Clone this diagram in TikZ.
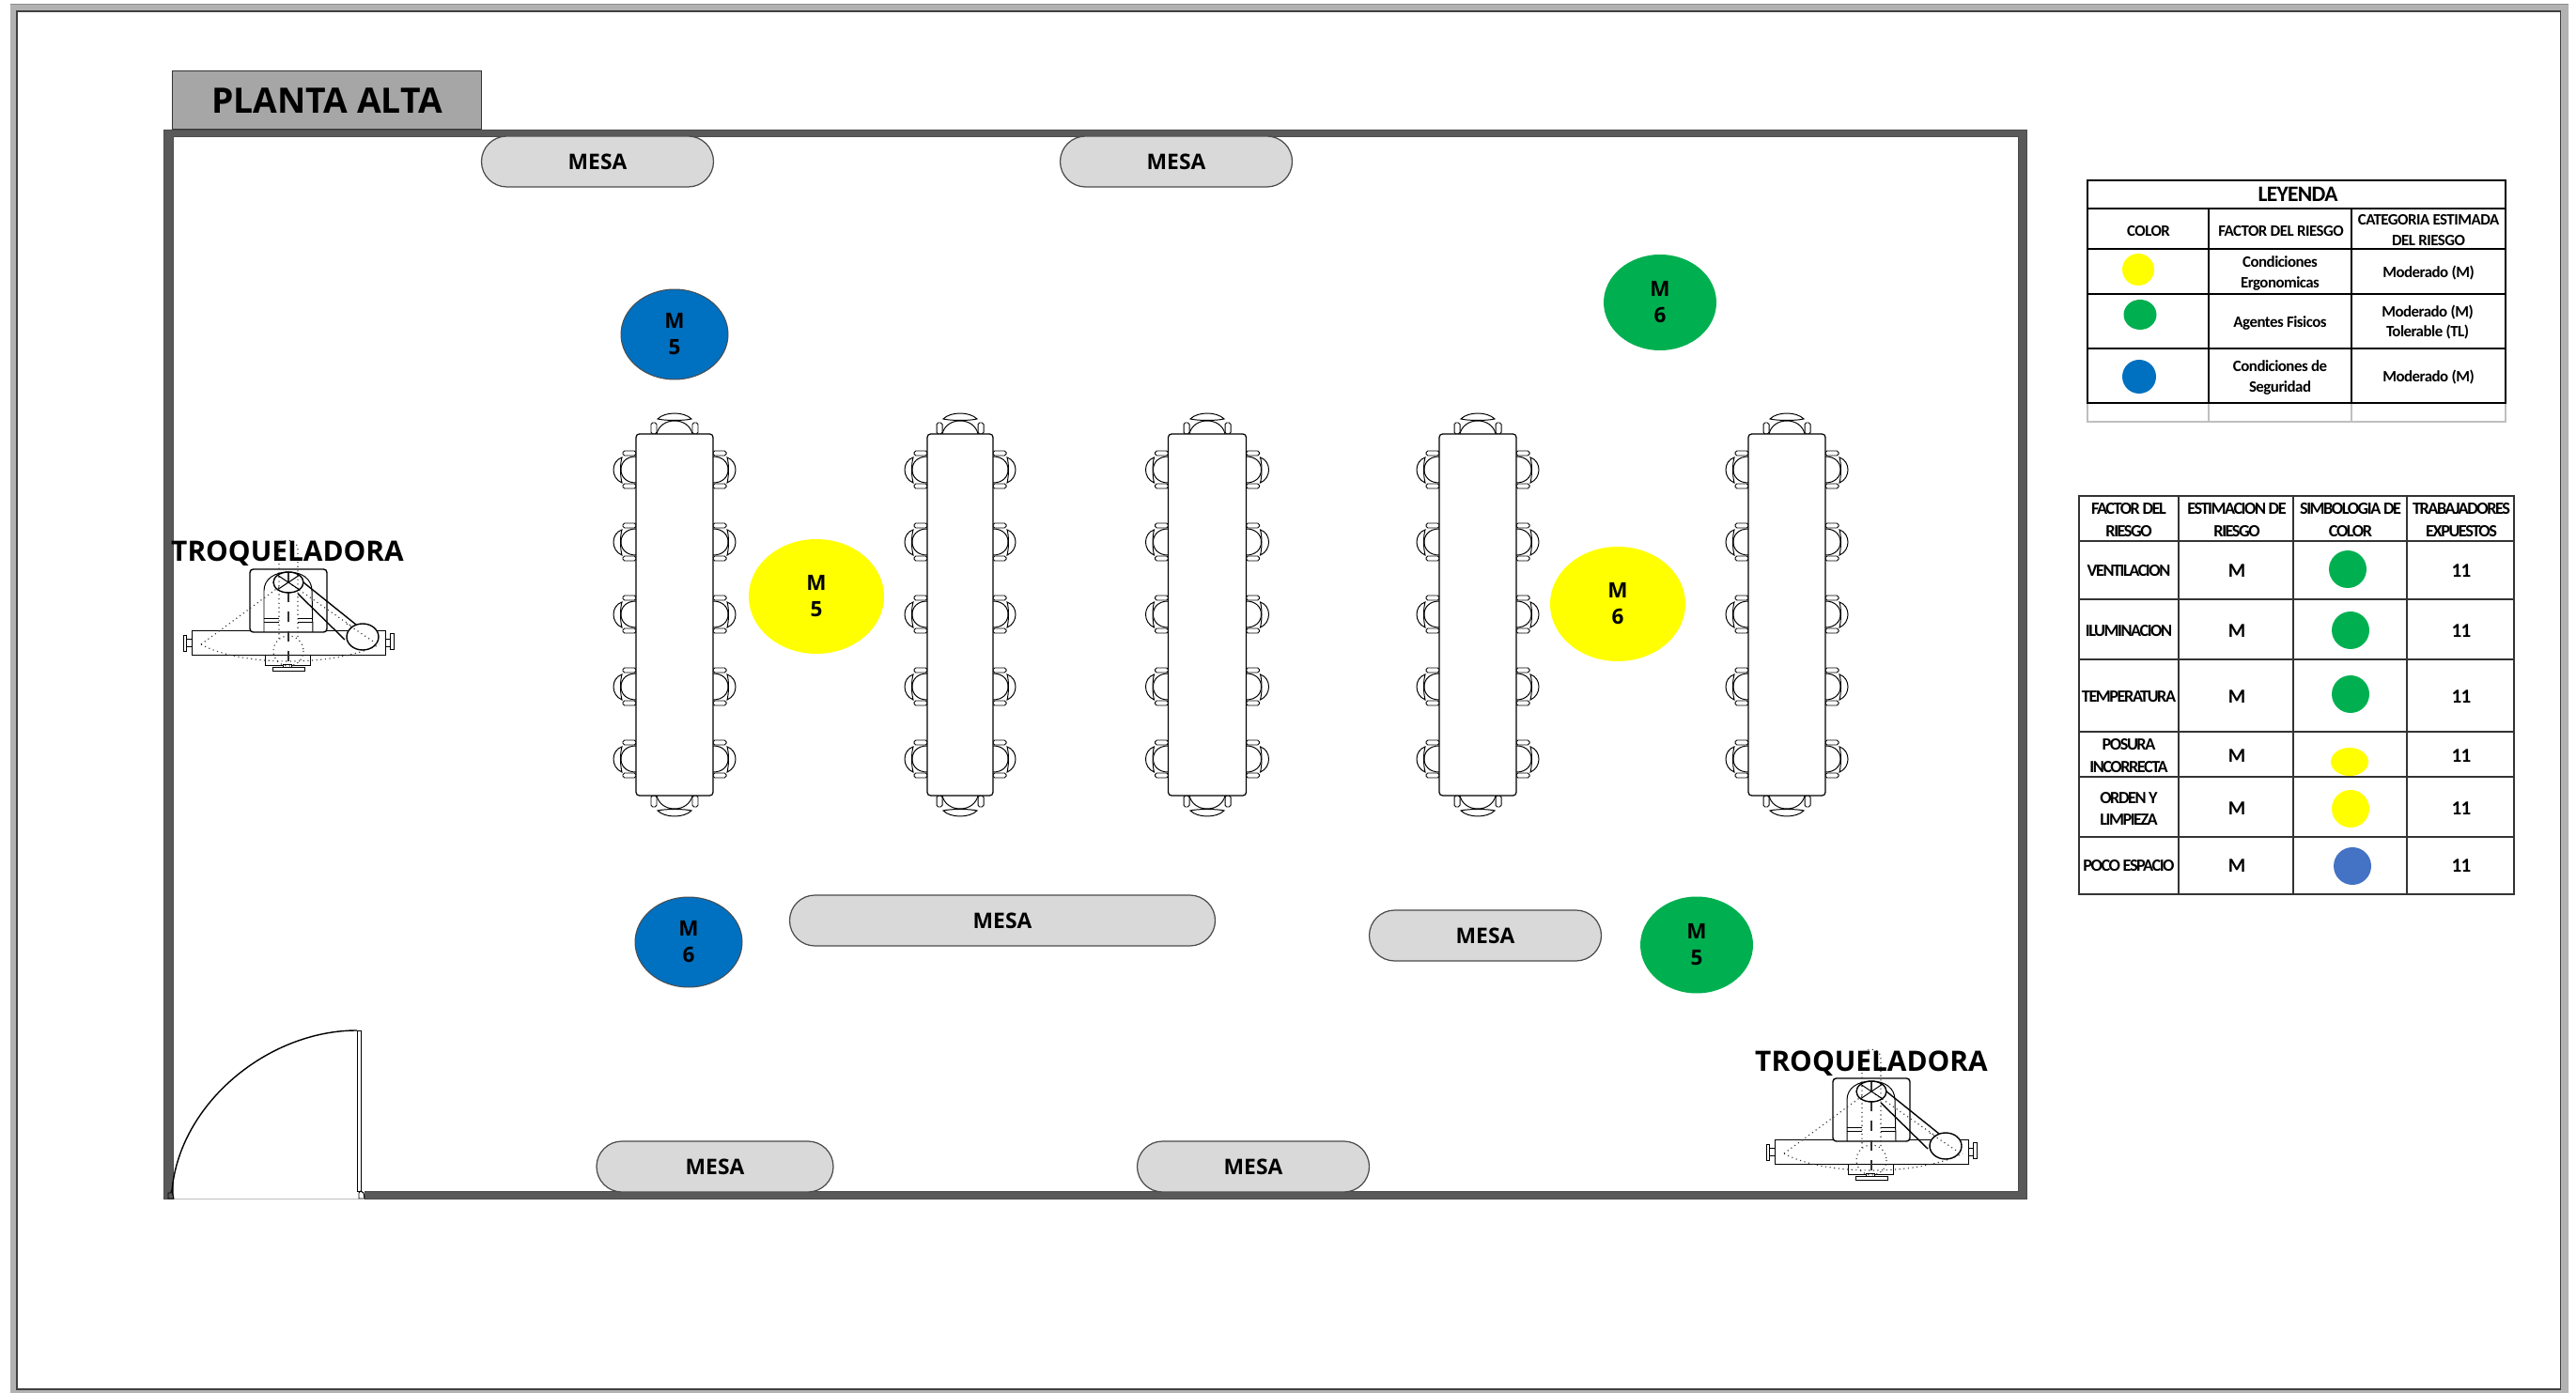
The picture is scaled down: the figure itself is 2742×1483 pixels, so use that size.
\documentclass[tikz,border=0pt]{standalone}
\usepackage{fontspec}
\setmainfont{Open Sans}
\newfontfamily\cellfont[LetterSpace=-3]{Carlito}
\newfontfamily\tightfont[LetterSpace=-8]{Carlito}
\usetikzlibrary{shapes.misc,shapes.geometric}
\definecolor{framegray}{HTML}{B2B2B2}
\definecolor{wallgray}{HTML}{595959}
\definecolor{titlegray}{HTML}{A6A6A6}
\definecolor{mesagray}{HTML}{D9D9D9}
\definecolor{riskyellow}{HTML}{FFFF00}
\definecolor{riskgreen}{HTML}{00B050}
\definecolor{riskblue}{HTML}{0070C0}
\definecolor{spaceblue}{HTML}{4472C4}
\tikzset{
    plan/.style={x=0.1mm,y=-0.1mm,line width=0.28pt},
    mesa/.style={rounded rectangle,draw=black!70,line width=0.35pt,fill=mesagray,minimum height=5.4mm,inner sep=0pt,font=\bfseries\fontsize{6.5}{8}\selectfont},
    risk/.style={ellipse,inner sep=0pt,align=center,font=\bfseries\fontsize{6.4}{8}\selectfont},
    label/.style={font=\bfseries\fontsize{8.5}{10}\selectfont},
    legendcell/.style={inner sep=0pt,align=center,font=\cellfont\bfseries\fontsize{4.8}{6}\selectfont},
    factorcell/.style={inner sep=0pt,align=center,font=\tightfont\bfseries\fontsize{5.2}{6.8}\selectfont},
    valuecell/.style={inner sep=0pt,font=\cellfont\bfseries\fontsize{6}{7}\selectfont},
    dot/.style={fill=#1,draw=none},
    hidden/.style={draw=black!80,densely dotted,line width=0.32pt},
    sidechair/.pic={
        \draw[rounded corners=0.5pt,fill=white] (0,-20) rectangle (-14,-15);
        \draw[rounded corners=0.5pt,fill=white] (0,15) rectangle (-14,20);
        \draw[fill=white] (0,-14) .. controls (-10,-14) and (-16,-8) .. (-16,0) .. controls (-16,8) and (-10,14) .. (0,14);
        \draw[fill=white] (-15,-13) .. controls (-27,-9) and (-27,9) .. (-15,14) .. controls (-17,6) and (-17,-6) .. cycle;
    },
    endchair/.pic={
        \draw[rounded corners=0.5pt,fill=white] (-25,0) rectangle (-19,-12);
        \draw[rounded corners=0.5pt,fill=white] (19,0) rectangle (25,-12);
        \draw[fill=white] (-19,0) .. controls (-17,-9) and (-9,-14) .. (0,-14) .. controls (9,-14) and (17,-9) .. (19,0);
        \draw[fill=white] (-18,-16) .. controls (-10,-24) and (10,-24) .. (18,-16) .. controls (10,-14) and (-10,-14) .. cycle;
    },
    troqueladora/.pic={
        \draw[fill=white] (-103,51) rectangle (103,77);
        \draw[fill=white] (-25,77) rectangle (23,88);
        \draw[fill=white] (-6,87) rectangle (3,90);
        \draw[fill=white] (-17,90) rectangle (17,94);
        \draw[fill=white] (-109,60) rectangle (-103,68);
        \draw[fill=white] (-112,56) rectangle (-109,73);
        \draw[fill=white] (103,60) rectangle (108,68);
        \draw[fill=white] (108,54) rectangle (112,71);
        \draw[line width=0.4pt,fill=white,rounded corners=1pt] (-41,53) -- (-41,-14) -- (41,-14) -- (41,53) -- cycle;
        \draw (-26,53) -- (-26,9) .. controls (-26,-4) and (-14,-11) .. (0,-11) .. controls (14,-11) and (25,-4) .. (25,9) -- (26,53);
        \draw (-26,38) -- (-10,38) (-26,42) -- (-10,42) (10,38) -- (26,38) (10,42) -- (26,42);
        \draw[hidden] (-93,66) -- (-10,5) (0,0) -- (95,66);
        \draw[hidden] (-93,66) .. controls (-50,90) and (50,90) .. (97,66);
        \draw[hidden] (-10,60) -- (-10,-35) .. controls (-10,-48) and (10,-48) .. (10,-35) -- (10,60);
        \draw[hidden,dashed] (0,-11) -- (0,87);
        \draw[hidden] (0,73) circle[radius=16];
        \draw[line width=0.4pt] (10,12) -- (60,61) (16,0) -- (72,45);
        \draw[line width=0.4pt] (0,0) ellipse[x radius=16,y radius=11];
        \draw (-12,-8) -- (12,8) (-12,8) -- (12,-8);
        \draw[line width=0.4pt,fill=white] (79,58) ellipse[x radius=17,y radius=14];
        \draw[hidden] (62,44) -- (95,66);
    }
}
\begin{document}
\begin{tikzpicture}[plan]
    \useasboundingbox (0,0) rectangle (2742,1483);
    % outer frame
    \fill[framegray,even odd rule] (11,5) rectangle (2734,1495) (18,12) rectangle (2725,1479);
    \draw[black!45] (11,5) -- (2734,5);
    \draw[black!75,line width=0.3pt] (18,12) rectangle (2725,1479);
    % title
    \node[draw=black!80,fill=titlegray,minimum width=32.9mm,minimum height=6.2mm,inner sep=0pt,font=\bfseries\fontsize{10.6}{12}\selectfont] (title) at (348,107) {PLANTA ALTA};
    % walls
    \fill[wallgray,even odd rule] (174,138) rectangle (2157,1276) (184,145) rectangle (2148,1268);
    \draw[black!70,line width=0.2pt] (174,138) rectangle (2157,1276) (184,145) rectangle (2148,1268);
    % door
    \fill[white] (185,1267) rectangle (388,1277);
    \draw[black!25] (185,1276) -- (382,1276);
    \draw[line width=0.4pt] (183,1268) .. controls (191,1175) and (285,1097) .. (380,1097);
    \draw[fill=white] (380,1097) rectangle (384,1268);
    \draw (179,1276) -- (179,1270) -- (182,1270) -- (182,1268) -- (183,1268) -- (185,1276) -- cycle;
    \draw (382,1276) -- (382,1270) -- (384,1268) -- (387,1270) -- (388,1276) -- cycle;
    % tables with chairs
    \foreach \tx/\tw in {718/82,1022/70,1285/83,1573/82,1902/82}{
        \foreach \cy in {500,577,654,731,808}{
            \pic at ({\tx-\tw/2},\cy) {sidechair};
            \pic[xscale=-1] at ({\tx+\tw/2},\cy) {sidechair};
        }
        \pic at (\tx,462) {endchair};
        \pic[yscale=-1] at (\tx,847) {endchair};
        \draw[fill=white,rounded corners=1pt,line width=0.35pt] ({\tx-\tw/2},462) rectangle ({\tx+\tw/2},847);
    }
    % mesas
    \node[mesa,minimum width=24.7mm] (mesaA) at (636,172) {MESA};
    \node[mesa,minimum width=24.7mm] (mesaB) at (1252,172) {MESA};
    \node[mesa,minimum width=45.3mm] (mesaC) at (1067,980) {MESA};
    \node[mesa,minimum width=24.7mm] (mesaD) at (1581,996) {MESA};
    \node[mesa,minimum width=25.2mm] (mesaE) at (761,1242) {MESA};
    \node[mesa,minimum width=24.7mm] (mesaF) at (1334,1242) {MESA};
    % risk marks
    \node[risk,fill=riskblue,draw=black!70,minimum width=11.4mm,minimum height=9.6mm] (blueA) at (718,356) {M\\5};
    \node[risk,fill=riskgreen,minimum width=12mm,minimum height=10.2mm] (greenA) at (1767,322) {M\\6};
    \node[risk,fill=riskyellow,minimum width=14.4mm,minimum height=12.2mm] (yellowA) at (869,635) {M\\5};
    \node[risk,fill=riskyellow,minimum width=14.4mm,minimum height=12.2mm] (yellowB) at (1722,643) {M\\6};
    \node[risk,fill=riskblue,draw=black!70,minimum width=11.4mm,minimum height=9.6mm] (blueB) at (733,1003) {M\\6};
    \node[risk,fill=riskgreen,minimum width=12mm,minimum height=10.3mm] (greenB) at (1806,1006) {M\\5};
    % machines
    \pic (machineA) at (307,620) {troqueladora};
    \pic (machineB) at (1992,1162) {troqueladora};
    \node[label] (troqA) at (306,589) {TROQUELADORA};
    \node[label] (troqB) at (1992,1132) {TROQUELADORA};
    % legend
    \draw[black!25,line width=0.5pt] (2222,429) -- (2222,449) -- (2667,449) -- (2667,429) (2351,429) -- (2351,449) (2503,429) -- (2503,449);
    \draw[line width=0.45pt] (2222,192) rectangle (2667,429);
    \foreach \ly in {222,265,313,371}{\draw[line width=0.45pt] (2222,\ly) -- (2667,\ly);}
    \foreach \lx in {2351,2503}{\draw[line width=0.45pt] (\lx,222) -- (\lx,429);}
    \node[legendcell,font=\cellfont\bfseries\fontsize{6.7}{8}\selectfont] (leyenda) at (2446,207) {LEYENDA};
    \node[legendcell] (colColor) at (2287,246) {COLOR};
    \node[legendcell] (colFactor) at (2428,246) {FACTOR DEL RIESGO};
    \node[legendcell] (colCategoria) at (2585,245) {CATEGORIA ESTIMADA\\DEL RIESGO};
    \node[legendcell] (factorA) at (2427,291) {Condiciones\\Ergonomicas};
    \node[legendcell] (categoriaA) at (2585,291) {Moderado (M)};
    \node[legendcell] (factorB) at (2427,344) {Agentes Fisicos};
    \node[legendcell] (categoriaB) at (2584,343) {Moderado (M)\\Tolerable (TL)};
    \node[legendcell] (factorC) at (2427,402) {Condiciones de\\Seguridad};
    \node[legendcell] (categoriaC) at (2585,402) {Moderado (M)};
    \fill[dot=riskyellow] (2276,287) circle[radius=17];
    \fill[dot=riskgreen] (2278,335) ellipse[x radius=17.5,y radius=16];
    \fill[dot=riskblue] (2277,401) circle[radius=18];
    % factor table
    \draw[black!80,line width=0.4pt] (2213,528) rectangle (2676,952);
    \foreach \ly in {576,638,702,779,827,891}{\draw[black!80,line width=0.4pt] (2213,\ly) -- (2676,\ly);}
    \foreach \lx in {2319,2441,2562}{\draw[black!80,line width=0.4pt] (\lx,528) -- (\lx,952);}
    \node[factorcell] (headA) at (2266,554) {FACTOR DEL\\RIESGO};
    \node[factorcell] (headB) at (2381,554) {ESTIMACION DE\\RIESGO};
    \node[factorcell] (headC) at (2502,554) {SIMBOLOGIA DE\\COLOR};
    \node[factorcell] (headD) at (2620,554) {TRABAJADORES\\EXPUESTOS};
    \foreach \rowname/\rowy/\rowtext in {rowA/608/VENTILACION,rowB/672/ILUMINACION,rowC/742/TEMPERATURA,rowD/805/{POSURA\\INCORRECTA},rowE/861/{ORDEN Y\\LIMPIEZA},rowF/922/POCO ESPACIO}{
        \node[factorcell] (\rowname) at (2266,\rowy) {\rowtext};
        \node[valuecell] (\rowname M) at (2381,\rowy) {M};
        \node[valuecell] (\rowname N) at (2620,\rowy) {11};
    }
    \fill[dot=riskgreen] (2499,606) circle[radius=20];
    \fill[dot=riskgreen] (2502,671) circle[radius=20];
    \fill[dot=riskgreen] (2502,739) circle[radius=20];
    \fill[dot=riskyellow] (2501,811) ellipse[x radius=20,y radius=15];
    \fill[dot=riskyellow] (2502,861) circle[radius=20];
    \fill[dot=spaceblue] (2504,922) circle[radius=20];
\end{tikzpicture}
\end{document}
